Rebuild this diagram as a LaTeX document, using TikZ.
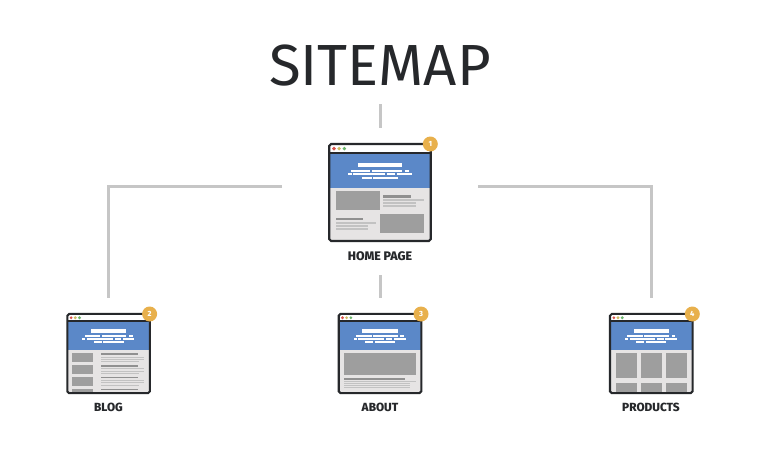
\documentclass[tikz,border=0pt]{standalone}
\usepackage{fontspec}
\setmainfont{Fira Sans}
\newfontfamily\titlefont{Fira Sans}
\newfontfamily\labelfont{Fira Sans ExtraBold}
\definecolor{ink}{HTML}{26282B}
\definecolor{linkgray}{HTML}{C6C6C6}
\definecolor{headblue}{HTML}{5B88C8}
\definecolor{pagegray}{HTML}{E6E4E4}
\definecolor{blockgray}{HTML}{9E9E9E}
\definecolor{headgray}{HTML}{909090}
\definecolor{textgray}{HTML}{C2C2C2}
\definecolor{badgegold}{HTML}{E8B04C}
\definecolor{dotred}{HTML}{D8524C}
\definecolor{dotyellow}{HTML}{CDBB62}
\definecolor{dotgreen}{HTML}{6BB56B}
\tikzset{
  x=1pt, y=-1pt,
  link/.style={draw=linkgray, line width=3pt, line join=miter},
  windowframe/.style={draw=ink, rounded corners=1.8pt, inner sep=0pt, outer sep=0pt},
  badge/.style={circle, fill=badgegold, inner sep=0pt, minimum size=#1, text=white, font=\labelfont\fontsize{7.5}{7.5}\selectfont},
  pagelabel/.style={text=ink, font=\labelfont\fontsize{12.4}{13}\selectfont, inner sep=0pt},
}
% A filled bar: colour, x from, x to, y from, y to (window units)
\newcommand{\barfill}[5]{\fill[#1] (#2,#4) rectangle (#3,#5);}
% The header shared by all pages, on a window 101.4 wide
\newcommand{\pagehead}{%
  \fill[pagegray] (0,8.7) rectangle (101.4,97);
  \fill[white] (0,0) rectangle (101.4,8.7);
  \fill[headblue] (0,8.7) rectangle (101.4,43.7);
  \fill[dotred] (4.7,4.6) circle (1.9);
  \fill[dotyellow] (9.8,4.6) circle (1.9);
  \fill[dotgreen] (15,4.6) circle (1.9);
  \barfill{white}{29}{72.4}{18.7}{22.7}
  \barfill{white}{21.3}{40.7}{26}{28}
  \barfill{white}{42.3}{72.3}{26}{28}
  \barfill{white}{75.7}{80}{26}{28}
  \barfill{white}{18.3}{22.3}{29.4}{31.4}
  \barfill{white}{24}{55.7}{29.4}{31.4}
  \barfill{white}{58}{65.7}{29.4}{31.4}
  \barfill{white}{68}{82.3}{29.4}{31.4}
  \barfill{white}{32.3}{42.3}{33}{35}
  \barfill{white}{44}{69}{33}{35}
}
% Rule under the title bar, drawn over the page contents
\newcommand{\titlerule}[1]{%
  \draw[ink, line width=#1] (0,8.7) -- (101.4,8.7);
}
\begin{document}
\begin{tikzpicture}
\useasboundingbox[fill=white] (0,0) rectangle (760,456);

% Title
\node[text=ink, inner sep=0pt, font=\titlefont\fontsize{58}{58}\selectfont] (sitemap) at (380,66) {SITEMAP};

% Free ends of the connectors
\coordinate (titleEnd) at (380,104);
\coordinate (homeTop) at (380,128);
\coordinate (homeLeft) at (282,186);
\coordinate (blogTop) at (108.5,298);
\coordinate (homeRight) at (478,186);
\coordinate (productsTop) at (651.5,298);
\coordinate (homeBelow) at (380,275);
\coordinate (aboutTop) at (380,298);

\draw[link] (titleEnd) -- (homeTop);
\draw[link] (homeLeft) -| (blogTop);
\draw[link] (homeRight) -| (productsTop);
\draw[link] (homeBelow) -- (aboutTop);

% Home page window
\begin{scope}[shift={(329.3,144)}]
  \begin{scope}
    \clip[rounded corners=1.8pt] (0,0) rectangle (101.4,97);
    \pagehead
    \barfill{blockgray}{6.7}{50.7}{47.3}{66}
    \barfill{headgray}{54}{81.3}{51}{53.7}
    \barfill{textgray}{54}{94.7}{55.3}{57}
    \barfill{textgray}{54}{86.7}{58.3}{60}
    \barfill{textgray}{54}{86.7}{61.2}{62.8}
    \barfill{headgray}{6.7}{34}{74}{76.4}
    \barfill{textgray}{6.7}{46.7}{78.3}{80}
    \barfill{textgray}{6.7}{39}{81.3}{83}
    \barfill{textgray}{6.7}{39}{84.2}{85.8}
    \barfill{blockgray}{50.7}{94.7}{70}{88.7}
    \titlerule{1.7pt}
  \end{scope}
  \node[windowframe, line width=2.2pt, minimum width=101.4pt, minimum height=97pt] (home) at (50.7,48.5) {};
  \node[badge=15pt] (homeBadge) at (101,0) {1};
\end{scope}
\node[pagelabel] (homeLabel) at (380,255.8) {HOME PAGE};

% Blog window
\begin{scope}[shift={(67.3,314)}, scale=.815]
  \begin{scope}
    \clip[rounded corners=1.6pt] (0,0) rectangle (101.4,97);
    \pagehead
    \foreach \rowy in {48.3,62.7,77.1,91.5} {
      \barfill{blockgray}{6.1}{31.9}{\rowy}{\rowy+11}
      \barfill{headgray}{41.3}{86.3}{\rowy}{\rowy+2}
      \barfill{textgray}{41.3}{94.5}{\rowy+4}{\rowy+5.2}
      \barfill{textgray}{41.3}{94.5}{\rowy+6.7}{\rowy+7.9}
      \barfill{textgray}{41.3}{88}{\rowy+9.4}{\rowy+10.6}
    }
    \titlerule{1.5pt}
  \end{scope}
  \node[windowframe, line width=2.1pt, minimum width=82.6pt, minimum height=79.2pt] (blog) at (50.7,48.5) {};
  \node[badge=15pt] (blogBadge) at (101,0) {2};
\end{scope}
\node[pagelabel, font=\labelfont\fontsize{11.8}{13}\selectfont] (blogLabel) at (108.5,407.6) {BLOG};

% About window
\begin{scope}[shift={(338.7,314)}, scale=.815]
  \begin{scope}
    \clip[rounded corners=1.6pt] (0,0) rectangle (101.4,97);
    \pagehead
    \barfill{blockgray}{6.5}{94.8}{48.3}{74.8}
    \barfill{headgray}{6.5}{81.4}{78.1}{81}
    \barfill{textgray}{6.5}{94.8}{82.8}{84}
    \barfill{textgray}{6.5}{88}{85.2}{86.4}
    \barfill{textgray}{6.5}{88}{87.6}{88.8}
    \barfill{textgray}{6.5}{88}{90}{91.2}
    \titlerule{1.5pt}
  \end{scope}
  \node[windowframe, line width=2.1pt, minimum width=82.6pt, minimum height=79.2pt] (about) at (50.7,48.5) {};
  \node[badge=15pt] (aboutBadge) at (101,0) {3};
\end{scope}
\node[pagelabel, font=\labelfont\fontsize{11.8}{13}\selectfont] (aboutLabel) at (380,407.6) {ABOUT};

% Products window
\begin{scope}[shift={(610,314)}, scale=.815]
  \begin{scope}
    \clip[rounded corners=1.6pt] (0,0) rectangle (101.4,97);
    \pagehead
    \foreach \colx/\colw in {7/25.7,38/26.2,69/25.8} {
      \barfill{blockgray}{\colx}{\colx+\colw}{47.4}{78.1}
      \barfill{blockgray}{\colx}{\colx+\colw}{85}{97}
    }
    \titlerule{1.5pt}
  \end{scope}
  \node[windowframe, line width=2.1pt, minimum width=82.6pt, minimum height=79.2pt] (products) at (50.7,48.5) {};
  \node[badge=15pt] (productsBadge) at (101,0) {4};
\end{scope}
\node[pagelabel, font=\labelfont\fontsize{11.8}{13}\selectfont] (productsLabel) at (651,407.6) {PRODUCTS};
\end{tikzpicture}
\end{document}
